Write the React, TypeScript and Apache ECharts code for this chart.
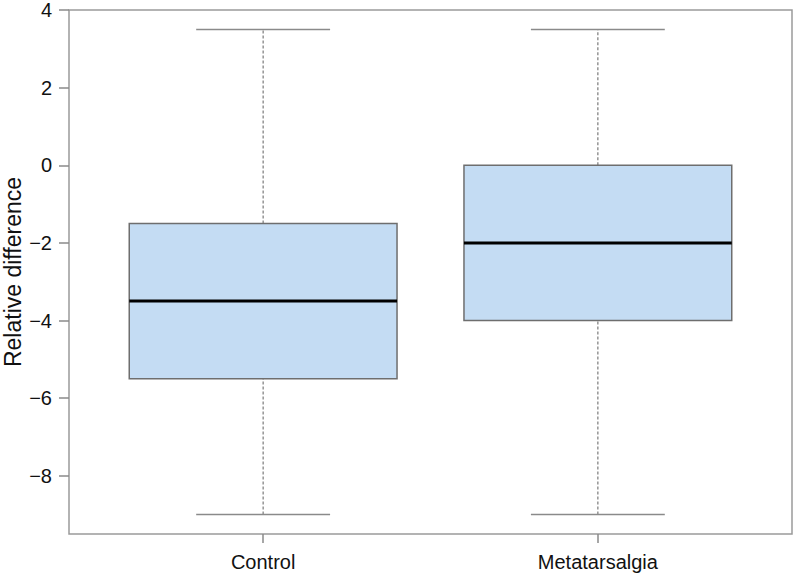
import React, { useEffect, useRef } from "react";
import * as echarts from "echarts";

const categories = ["Control", "Metatarsalgia"];
const whiskerLow = [-9, -9];
const q1 = [-5.5, -4];
const median = [-3.5, -2];
const q3 = [-1.5, 0];
const whiskerHigh = [3.5, 3.5];
const yTicks = [-8, -6, -4, -2, 0, 2, 4];

const FONT = "'Liberation Sans', Arial, Helvetica, sans-serif";

export default function App() {
  const ref = useRef<HTMLDivElement>(null);
  useEffect(() => {
    if (!ref.current) return;
    const chart = echarts.init(ref.current, null, { renderer: "svg" });
    const data = categories.map((c, i) => [
      i + 1,
      whiskerLow[i],
      q1[i],
      median[i],
      q3[i],
      whiskerHigh[i],
    ]);
    chart.setOption({
      animation: false,
      backgroundColor: "#ffffff",
      grid: {
        left: 69,
        top: 10,
        right: 1,
        bottom: 40,
        outerBoundsMode: "none",
        containLabel: false,
        show: true,
        borderColor: "#9a9a9a",
        borderWidth: 1.5,
        backgroundColor: "transparent",
      },
      xAxis: {
        type: "value",
        min: 0.42,
        max: 2.58,
        splitLine: { show: false },
        axisLine: { show: false, onZero: false },
        axisTick: {
          show: true,
          customValues: [1, 2],
          length: 9,
          lineStyle: { color: "#8a8a8a", width: 1.5 },
        },
        axisLabel: {
          customValues: [1, 2],
          margin: 18,
          fontSize: 20,
          fontFamily: FONT,
          color: "#111",
          formatter: (v: number) => categories[Math.round(v) - 1] ?? "",
        },
      },
      yAxis: {
        type: "value",
        min: -9.5,
        max: 4,
        name: "Relative difference",
        nameLocation: "middle",
        nameRotate: 90,
        nameGap: 45,
        nameMoveOverlap: false,
        nameTextStyle: { fontSize: 23, fontFamily: FONT, color: "#111" },
        splitLine: { show: false },
        axisLine: { show: false, onZero: false },
        axisTick: {
          show: true,
          customValues: yTicks,
          length: 10,
          lineStyle: { color: "#8a8a8a", width: 1.5 },
        },
        axisLabel: {
          customValues: yTicks,
          margin: 17,
          fontSize: 20,
          fontFamily: FONT,
          color: "#111",
          formatter: (v: number) => (v < 0 ? "\u2212" + Math.abs(v) : String(v)),
        },
      },
      series: [
        {
          type: "custom",
          data,
          encode: { x: 0, y: [1, 2, 3, 4, 5] },
          renderItem: (params: any, api: any) => {
            const x = api.value(0);
            const lo = api.coord([x, api.value(1)]);
            const b1 = api.coord([x, api.value(2)]);
            const md = api.coord([x, api.value(3)]);
            const b3 = api.coord([x, api.value(4)]);
            const hi = api.coord([x, api.value(5)]);
            const halfBox = api.size([0.4, 0])[0];
            const halfCap = api.size([0.2, 0])[0];
            const cx = lo[0];
            const dashStyle = { stroke: "#7a7a7a", lineWidth: 1.2, lineDash: [3, 2] };
            const capStyle = { stroke: "#8a8a8a", lineWidth: 1.5 };
            return {
              type: "group",
              children: [
                { type: "line", shape: { x1: cx, y1: b3[1], x2: cx, y2: hi[1] }, style: dashStyle },
                { type: "line", shape: { x1: cx, y1: lo[1], x2: cx, y2: b1[1] }, style: dashStyle },
                { type: "line", shape: { x1: cx - halfCap, y1: hi[1], x2: cx + halfCap, y2: hi[1] }, style: capStyle },
                { type: "line", shape: { x1: cx - halfCap, y1: lo[1], x2: cx + halfCap, y2: lo[1] }, style: capStyle },
                {
                  type: "rect",
                  shape: { x: cx - halfBox, y: b3[1], width: 2 * halfBox, height: b1[1] - b3[1] },
                  style: { fill: "#c4dcf3", stroke: "#6e6e6e", lineWidth: 1.5 },
                },
                {
                  type: "line",
                  shape: { x1: cx - halfBox, y1: md[1], x2: cx + halfBox, y2: md[1] },
                  style: { stroke: "#000", lineWidth: 3 },
                },
              ],
            };
          },
        },
      ],
    });
    return () => chart.dispose();
  }, []);
  return <div ref={ref} style={{ width: 793, height: 574, position: "absolute", left: 0, top: 0 }} />;
}
